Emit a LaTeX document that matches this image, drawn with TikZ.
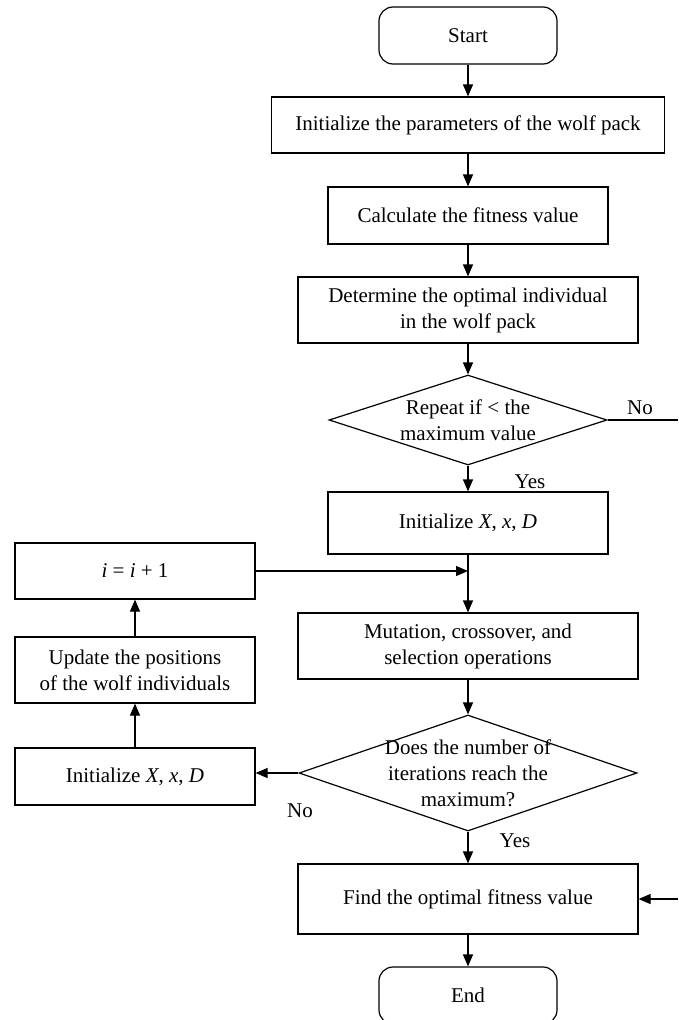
\documentclass[tikz,border=0pt]{standalone}
\usepackage{fontspec}
\setmainfont{Liberation Serif}
\usetikzlibrary{arrows.meta,positioning,shapes.geometric}

\begin{document}
\begin{tikzpicture}[x=1pt,y=-1pt,>={Triangle[length=12pt,width=10pt]},line width=1.2pt,
  every node/.style={font=\fontsize{21}{26}\selectfont},
  proc/.style={draw,rectangle,align=center,inner sep=0pt},
  term/.style={draw,rectangle,rounded corners=14pt,minimum width=178pt,minimum height=57pt},
  dec/.style={draw,diamond,inner sep=0pt}]
\useasboundingbox (0,0) rectangle (678,1020);
% main column
\node[term] (start) at (468,35.5) {Start};
\node[proc,minimum width=393pt,minimum height=56pt] (init) at (468,125) {Initialize the parameters of the wolf pack};
\node[proc,minimum width=280pt,minimum height=57pt] (fit) at (468,215.5) {Calculate the fitness value};
\node[proc,minimum width=340pt,minimum height=66pt] (best) at (468,310) {Determine the optimal individual\\in the wolf pack};
\node[dec,minimum width=278pt,minimum height=90pt,label={[align=center]center:Repeat if < the\\maximum value}] (rep) at (468,420) {};
\node[proc,minimum width=280pt,minimum height=62pt] (initxd) at (468,523) {Initialize \textit{X}, \textit{x}, \textit{D}};
\node[proc,minimum width=340pt,minimum height=66pt] (mut) at (468,646) {Mutation, crossover, and\\selection operations};
\node[dec,minimum width=338pt,minimum height=116pt,label={[align=center]center:Does the number of\\iterations reach the\\maximum?}] (iter) at (468,773) {};
\node[proc,minimum width=340pt,minimum height=70pt] (find) at (468,899) {Find the optimal fitness value};
\node[term] (end) at (468,995.5) {End};
% left column
\node[proc,minimum width=240pt,minimum height=56pt] (inc) at (135,571) {\textit{i} = \textit{i} + 1};
\node[proc,minimum width=240pt,minimum height=66pt] (upd) at (135,670) {Update the positions\\of the wolf individuals};
\node[proc,minimum width=240pt,minimum height=57pt] (initl) at (135,776.5) {Initialize \textit{X}, \textit{x}, \textit{D}};
% open ends at the right margin
\coordinate (noout) at (678,420);
\coordinate (noin) at (678,899);
\foreach \u/\v in {start/init,init/fit,fit/best,best/rep,rep/initxd,initxd/mut,mut/iter,iter/find,find/end,initl/upd,upd/inc}{\draw[->] (\u)--(\v);}
\draw[->] (inc.east) -- (inc.east -| initxd.south);
\draw[->] (iter.west) -- (iter.west -| initl.east);
\draw (rep.east) -- (noout);
\draw[->] (noin) -- (find.east);
% branch labels
\node (no1) at (640,408) {No};
\node (yes1) at (530,482) {Yes};
\node (no2) at (300,811) {No};
\node (yes2) at (515,841) {Yes};
\end{tikzpicture}
\end{document}
